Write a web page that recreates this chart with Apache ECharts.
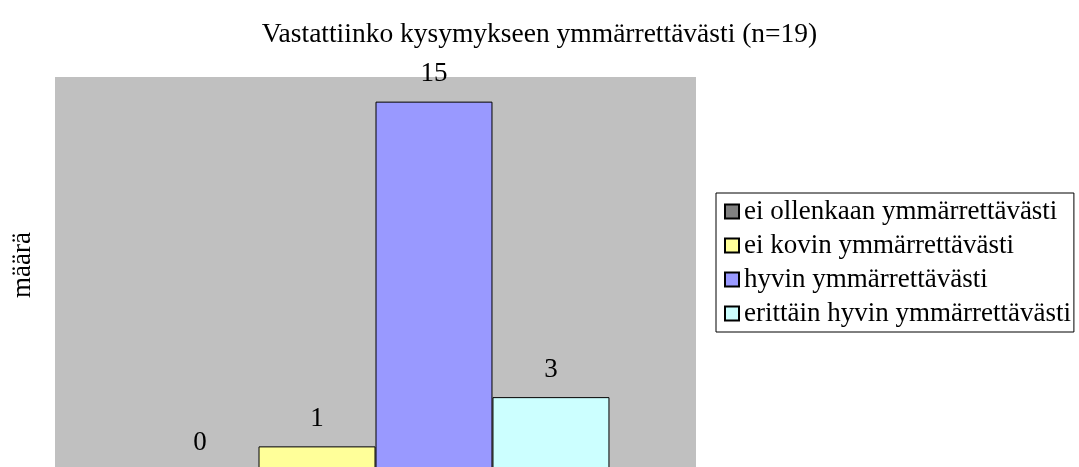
<!DOCTYPE html>
<html>
<head>
<meta charset="utf-8">
<script src="https://cdn.jsdelivr.net/npm/echarts@6/dist/echarts.min.js"></script>
<style>html,body{margin:0;padding:0;background:#fff;overflow:hidden;}#c{width:1079px;height:490px;}</style>
</head>
<body>
<div id="c"></div>
<script>
const titleText = 'Vastattiinko kysymykseen ymmärrettävästi (n=19)';
const yName = 'määrä';
const categories = [''];
const seriesNames = ['ei ollenkaan ymmärrettävästi', 'ei kovin ymmärrettävästi', 'hyvin ymmärrettävästi', 'erittäin hyvin ymmärrettävästi'];
const seriesValues = [[0], [1], [15], [3]];
const seriesColors = ['#808080', '#FFFF99', '#9999FF', '#CCFFFF'];

const font = '"Liberation Serif", "Times New Roman", serif';
const chart = echarts.init(document.getElementById('c'), null, {renderer: 'canvas'});
chart.setOption({
  animation: false,
  backgroundColor: '#ffffff',
  title: {
    text: titleText, left: 'center', top: 16,
    textStyle: {fontFamily: font, fontSize: 27.5, fontWeight: 'normal', color: '#000'}
  },
  legend: {
    orient: 'vertical', left: 716, top: 193,
    padding: [5, 3, 5, 8],
    borderColor: '#000', borderWidth: 1,
    itemWidth: 14, itemHeight: 14, itemGap: 7,
    icon: 'rect',
    textStyle: {fontFamily: font, fontSize: 27, color: '#000', lineHeight: 27},
    data: seriesNames
  },
  graphic: [{
    type: 'text', x: 23, y: 265, rotation: Math.PI / 2,
    style: {text: yName, fontFamily: font, fontSize: 27, fill: '#000', align: 'center', verticalAlign: 'middle'}
  }],
  grid: {left: 55, top: 77, width: 641, height: 394, backgroundColor: '#C0C0C0', show: true, borderWidth: 0},
  xAxis: {type: 'category', data: categories, axisLine: {show: false}, axisTick: {show: false}, axisLabel: {show: false}},
  yAxis: {
    type: 'value', min: 0, max: 16, interval: 2,
    axisLine: {show: false}, axisTick: {show: false}, axisLabel: {show: false}, splitLine: {show: false}
  },
  series: seriesNames.map((n, i) => ({
    name: n, type: 'bar', data: seriesValues[i],
    barGap: '0%', barCategoryGap: '27%',
    itemStyle: {color: seriesColors[i], borderColor: '#000', borderWidth: 1},
    label: {show: true, position: 'top', distance: 14, fontFamily: font, fontSize: 27, color: '#000'}
  }))
});
</script>
</body>
</html>
